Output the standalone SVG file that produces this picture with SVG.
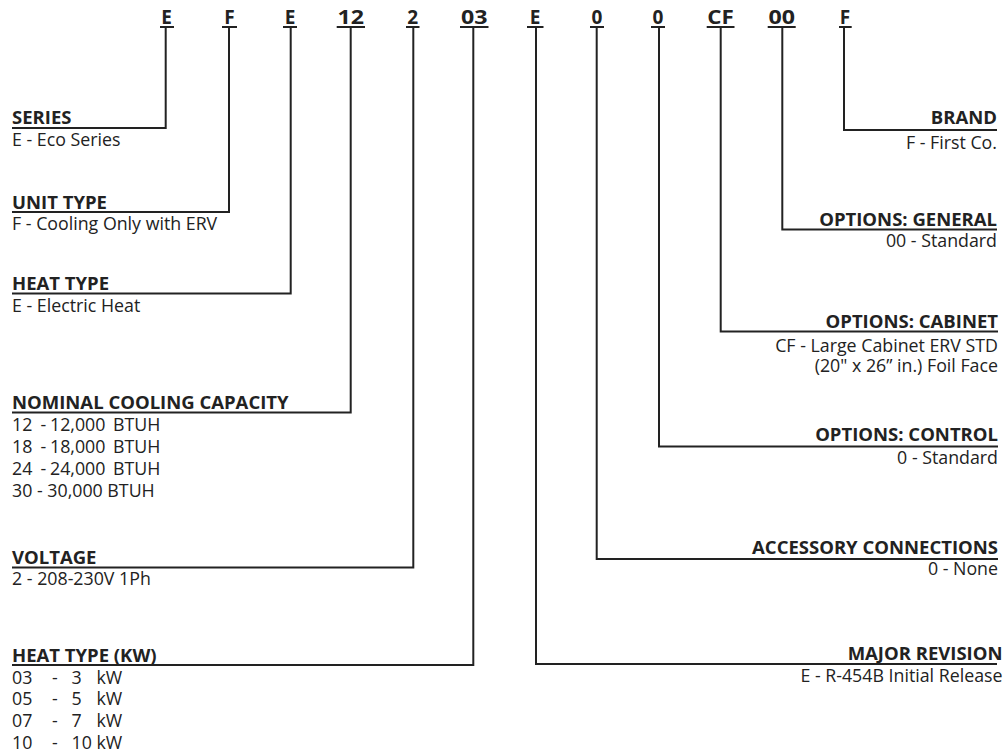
<svg xmlns="http://www.w3.org/2000/svg" width="1006" height="755" viewBox="0 0 1006 755">
<style>
text{font-family:"Open Sans","Liberation Sans",sans-serif;fill:#222}
.code{font-size:19px;font-weight:700;text-anchor:middle}
.hd{font-size:18.5px;font-weight:700}
.ds{font-size:17.8px}
.r{text-anchor:end}
.ln{fill:none;stroke:#222;stroke-width:2}
</style>
<rect width="1006" height="755" fill="#fff"/>
<g id="codes">
<text class="code" x="166.7" y="23.5">E</text>
<text class="code" x="229.5" y="23.5">F</text>
<text class="code" x="290" y="23.5">E</text>
<text class="code" x="350.8" y="23.5" textLength="26.5" lengthAdjust="spacingAndGlyphs">12</text>
<text class="code" x="412.8" y="23.5">2</text>
<text class="code" x="474.2" y="23.5" textLength="26.5" lengthAdjust="spacingAndGlyphs">03</text>
<text class="code" x="535" y="23.5">E</text>
<text class="code" x="597" y="23.5">0</text>
<text class="code" x="658" y="23.5">0</text>
<text class="code" x="720.5" y="23.5" textLength="26.5" lengthAdjust="spacingAndGlyphs">CF</text>
<text class="code" x="781.7" y="23.5" textLength="26.5" lengthAdjust="spacingAndGlyphs">00</text>
<text class="code" x="845" y="23.5">F</text>
</g>
<g id="connectors">
<path class="ln" d="M160,27H174M165.7,27V128H12"/>
<path class="ln" d="M222,27H237M229,27V212H12"/>
<path class="ln" d="M283,27H297M290.7,27V293.5H12"/>
<path class="ln" d="M336.7,27H365M350.7,27V412.5H12"/>
<path class="ln" d="M406,27H419.5M413.3,27V567.5H12"/>
<path class="ln" d="M460,27H488.5M473.3,27V665H12"/>
<path class="ln" d="M527,27H543.5M536,27V664H997"/>
<path class="ln" d="M590,27H604M596.7,27V559H998"/>
<path class="ln" d="M651,27H665M659,27V446.5H998"/>
<path class="ln" d="M706.7,27H734.5M720.7,27V331.5H998"/>
<path class="ln" d="M767.7,27H795.7M782.3,27V229.5H997"/>
<path class="ln" d="M839,27H851.7M844,27V130H997"/>
</g>
<g id="series"><text class="hd" x="12" y="124">SERIES</text><text class="ds" x="12" y="146">E - Eco Series</text></g>
<g id="unit-type"><text class="hd" x="12" y="208.5">UNIT TYPE</text><text class="ds" x="12" y="230">F - Cooling Only with ERV</text></g>
<g id="heat-type"><text class="hd" x="12" y="290">HEAT TYPE</text><text class="ds" x="12" y="312">E - Electric Heat</text></g>
<g id="nominal-cooling-capacity"><text class="hd" x="12" y="409">NOMINAL COOLING CAPACITY</text>
<text class="ds" y="431"><tspan x="12">12</tspan><tspan x="40.5">-</tspan><tspan x="50">12,000</tspan><tspan x="113">BTUH</tspan></text>
<text class="ds" y="453"><tspan x="12">18</tspan><tspan x="40.5">-</tspan><tspan x="50">18,000</tspan><tspan x="113">BTUH</tspan></text>
<text class="ds" y="475"><tspan x="12">24</tspan><tspan x="40.5">-</tspan><tspan x="50">24,000</tspan><tspan x="113">BTUH</tspan></text>
<text class="ds" x="12" y="496.5">30 - 30,000 BTUH</text>
</g>
<g id="voltage"><text class="hd" x="12" y="563.5">VOLTAGE</text><text class="ds" x="12" y="585">2 - 208-230V 1Ph</text></g>
<g id="heat-type-kw"><text class="hd" x="12" y="661.5">HEAT TYPE (KW)</text>
<text class="ds" y="683.5"><tspan x="12">03</tspan><tspan x="52">-</tspan><tspan x="71.5">3</tspan><tspan x="96.5">kW</tspan></text>
<text class="ds" y="705"><tspan x="12">05</tspan><tspan x="52">-</tspan><tspan x="71.5">5</tspan><tspan x="96.5">kW</tspan></text>
<text class="ds" y="726.5"><tspan x="12">07</tspan><tspan x="52">-</tspan><tspan x="71.5">7</tspan><tspan x="96.5">kW</tspan></text>
<text class="ds" y="748.5"><tspan x="12">10</tspan><tspan x="52">-</tspan><tspan x="71.5">10</tspan><tspan x="96.5">kW</tspan></text>
</g>
<g id="brand"><text class="hd r" x="997" y="123.5">BRAND</text><text class="ds r" x="997" y="148.5">F - First Co.</text></g>
<g id="options-general"><text class="hd r" x="997" y="226">OPTIONS: GENERAL</text><text class="ds r" x="997" y="247">00 - Standard</text></g>
<g id="options-cabinet"><text class="hd r" x="998" y="327.5">OPTIONS: CABINET</text><text class="ds r" x="998" y="352">CF - Large Cabinet ERV STD</text><text class="ds r" x="998" y="372">(20" x 26” in.) Foil Face</text></g>
<g id="options-control"><text class="hd r" x="998" y="440.5">OPTIONS: CONTROL</text><text class="ds r" x="998" y="463.5">0 - Standard</text></g>
<g id="accessory-connections"><text class="hd r" x="998" y="553.5">ACCESSORY CONNECTIONS</text><text class="ds r" x="998" y="575">0 - None</text></g>
<g id="major-revision"><text class="hd r" x="1002.5" y="659.5">MAJOR REVISION</text><text class="ds r" x="1002.5" y="682">E - R-454B Initial Release</text></g>
</svg>
